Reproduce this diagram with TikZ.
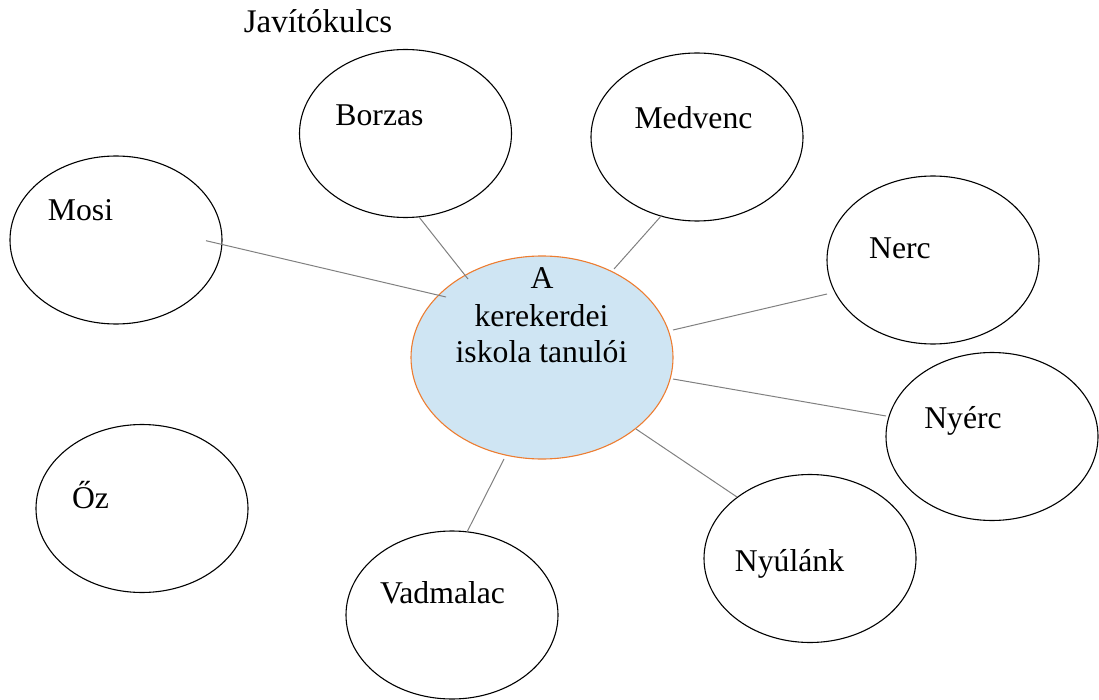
\documentclass[tikz,border=0pt]{standalone}
\usepackage{fontspec}
\setmainfont{Liberation Serif}
\usetikzlibrary{shapes.geometric}
\definecolor{cfill}{RGB}{207,229,243}
\definecolor{cborder}{RGB}{237,125,49}
\definecolor{linkgray}{RGB}{128,128,128}
\begin{document}
\begin{tikzpicture}[x=1pt,y=-1pt,
  bub/.style={draw=black, line width=1.1pt, ellipse, minimum width=212pt, minimum height=168pt, inner sep=0pt},
  lbl/.style={anchor=base, inner sep=0pt, font=\fontsize{31.7}{36.5}\selectfont},
  link/.style={draw=linkgray, line width=1pt}]
\useasboundingbox (0,0) rectangle (1099,700);

% bubbles
\node[bub] (mosi) at (116,240) {};
\node[bub] (borzas) at (405.5,133.5) {};
\node[bub] (medvenc) at (697,137) {};
\node[bub] (nerc) at (933,260) {};
\node[bub] (nyerc) at (992,436.5) {};
\node[bub] (nyulank) at (810,558.5) {};
\node[bub] (vadmalac) at (452,615) {};
\node[bub] (oz) at (142,508.5) {};
\node[ellipse, draw=cborder, fill=cfill, line width=1.1pt, minimum width=262pt, minimum height=203pt, inner sep=0pt] (c) at (542,357.5) {};

% labels
\node[lbl, font=\fontsize{33}{36}\selectfont] (title) at (318,33) {Javítókulcs};
\node[lbl] (tmosi) at (80.5,221) {Mosi};
\node[lbl] (tborzas) at (379.5,126) {Borzas};
\node[lbl] (tmedvenc) at (693.5,129) {Medvenc};
\node[lbl] (tnerc) at (900,259) {Nerc};
\node[lbl] (tnyerc) at (963,428) {Nyérc};
\node[lbl] (tnyulank) at (789.5,571) {Nyúlánk};
\node[lbl] (tvadmalac) at (442.5,603) {Vadmalac};
\node[lbl] (toz) at (90.5,508) {Őz};
\node[lbl] (tc1) at (542,289) {A};
\node[lbl] (tc2) at (541.5,326) {kerekerdei};
\node[lbl] (tc3) at (541.5,362) {iskola tanulói};

% connectors
\draw[link] ([shift={(90,0.7)}]mosi.center) -- ([shift={(-96,-60.5)}]c.center);
\draw[link] ([shift={(13.5,83.5)}]borzas.center) -- ([shift={(-74,-78.5)}]c.center);
\draw[link] ([shift={(-35,78)}]medvenc.center) -- ([shift={(72,-88.5)}]c.center);
\draw[link] ([shift={(-106,34)}]nerc.center) -- ([shift={(131,-27.5)}]c.center);
\draw[link] ([shift={(-106,-20.5)}]nyerc.center) -- ([shift={(131,21.5)}]c.center);
\draw[link] ([shift={(-73,-61.5)}]nyulank.center) -- ([shift={(94,71.5)}]c.center);
\draw[link] ([shift={(15,-83)}]vadmalac.center) -- ([shift={(-38,101.5)}]c.center);
\end{tikzpicture}
\end{document}
